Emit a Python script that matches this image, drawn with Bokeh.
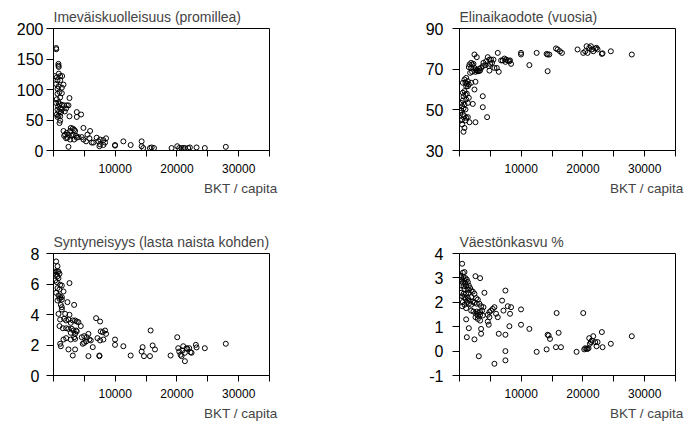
from bokeh.plotting import figure
from bokeh.layouts import gridplot
from bokeh.models import FixedTicker, Title, Range1d
from bokeh.embed import file_html
from bokeh.resources import INLINE

# ---------------- data ----------------
imr_x = [430, 450, 800, 800, 850, 215, 540, 860, 1080, 1400, 650, 1080, 430, 1620, 810, 650, 1350, 970,
         1350, 650, 1080, 2590, 540, 810, 430, 970, 1350, 755, 1080, 650, 1350, 915, 1725, 2155, 2425,
         2050, 1830, 1240, 3770, 4475, 3770, 2590, 540, 810, 1080, 650, 1080, 970,
         1620, 1890, 1725, 2155, 2425, 2700, 2800, 3125, 3340, 3500, 2965, 3235, 3665, 3770, 4040, 3340,
         2700, 2260, 2050, 2425, 4850, 5930, 5500, 4580, 4850, 5280, 5820, 6200, 6470, 7000, 7280, 7550,
         8085, 8515, 7440, 7550, 8085, 8355, 9970, 9970, 11320, 12500, 14280, 14280, 14550, 15630, 15900,
         16280, 19130, 20050, 20370, 20750, 21020, 21290, 21830, 22100, 23180, 24520, 27920]
imr_y = [168, 166, 142, 139, 137, 122, 120, 126, 122, 122, 115, 115, 109, 108, 105, 101, 103, 96,
         94, 93, 87, 86, 84, 79, 78, 76, 75, 72, 69, 67, 67, 64, 74, 74, 74,
         69, 64, 63, 63, 59, 55, 56, 59, 57, 56, 55, 49, 45,
         32, 26, 24, 29, 26, 32, 37, 36, 34, 32, 24, 26, 24, 21, 22, 18,
         18, 21, 20, 6, 37, 32, 26, 22, 18, 15, 20, 13, 13, 21, 15, 18,
         17, 20, 7, 10, 9, 13, 9, 8, 15, 9, 15, 7, 4, 4, 5,
         4, 4, 7, 4, 4, 4, 4, 4, 5, 5, 4, 6]

life_x = [2425, 2800, 1890, 1620, 2050, 2260, 1510, 1890, 2425, 2700, 2800, 3125, 3340, 3500, 3770, 3235,
          2965, 2590, 2050, 1725, 3880, 4200, 4580, 4310, 4850, 5120, 5500, 5280, 4960, 4740, 4850, 5660,
          6040, 6360, 6200, 6740, 7000, 7280, 7550, 7440, 7820, 8085, 8355, 8190, 9970, 9970, 11320, 12500,
          14120, 14280, 14550, 14280, 15630, 15900, 16280, 16600, 19130, 20050, 20370, 20590, 20750, 21020,
          21290, 21450, 21670, 21990, 22210, 22370, 23070, 23180, 24520, 27920,
          540, 810, 1080, 1350, 970, 1185, 1510, 1890, 1080, 1350, 2590, 2425, 810, 540, 970, 1185, 650,
          1510, 1080, 540, 270, 810, 1350, 2155, 3770, 430, 650, 970, 270, 3770, 110, 540, 810, 1080, 1350,
          430, 110, 970, 1620, 2590, 430, 810, 650, 4475]
life_y = [77.2, 75.9, 73.1, 72.3, 72.3, 72.6, 71.0, 70.6, 70.6, 69.8, 69.3, 69.0, 69.3, 70.6, 71.5, 70.3,
          69.0, 68.7, 68.7, 68.2, 73.1, 72.0, 75.9, 73.9, 74.7, 74.7, 74.7, 73.1, 72.6, 71.5, 69.3, 70.6,
          70.6, 68.7, 78.0, 74.3, 74.3, 75.2, 74.7, 73.6, 74.3, 73.9, 72.6, 74.3, 78.0, 77.2, 72.0, 78.0,
          77.5, 77.2, 77.2, 69.0, 80.2, 79.7, 78.8, 78.0, 79.7, 78.0, 78.8, 81.3, 78.0, 80.5,
          81.3, 79.7, 78.8, 80.2, 80.5, 79.7, 77.5, 77.8, 78.8, 77.2,
          63.3, 64.9, 65.7, 64.1, 63.3, 62.8, 62.5, 63.3, 61.6, 61.6, 63.8, 60.0, 59.2, 58.4, 57.5, 57.9, 56.7,
          55.9, 55.1, 54.6, 53.4, 52.6, 53.4, 52.9, 56.7, 51.8, 50.7, 50.2, 49.7, 51.3, 48.5, 47.7, 46.9, 46.1, 46.4,
          45.2, 44.8, 44.8, 43.9, 43.9, 42.8, 41.1, 39.2, 46.4]

fert_x = [430, 650, 270, 540, 810, 110, 430, 970, 650, 810, 270, 540, 1080, 1350, 2590, 1620, 650, 970,
          430, 810, 1080, 1350, 650, 970, 1350, 2260, 1185, 1350, 3340, 1350, 810, 1890, 2590, 2425, 1080,
          1725, 2050, 2800, 3125, 3500, 3770, 4040, 4420, 970, 1510, 2050, 2425, 2965, 3235, 3665, 2800,
          3500, 3770, 3340, 1620, 2050, 2800, 3500, 4580, 4960, 5390, 5660, 5820, 6040, 4740, 4960, 5280,
          6900, 7550, 7660, 7980, 8355, 8515, 7120, 7550, 8085, 6360, 1080, 1185, 2425, 3125, 3500, 5660,
          7440, 7440, 9970, 9970, 11320, 12500, 14280, 14440, 14660, 15630, 15740, 16060, 16440, 18970,
          20050, 20210, 20370, 20590, 20750, 20910, 21020, 21290, 21560, 21670, 21990, 22210, 22370, 23070,
          23180, 24520, 27920, 21290]
fert_y = [7.48, 7.17, 6.82, 6.82, 6.82, 6.73, 6.60, 6.67, 6.51, 6.38, 6.23, 6.12, 5.95, 5.90, 6.06, 5.51, 5.73, 5.64,
          5.42, 5.25, 5.14, 5.14, 4.92, 5.03, 4.98, 4.81, 4.63, 4.48, 4.63, 4.33, 4.04, 4.04, 3.98, 3.67, 3.67,
          3.72, 3.61, 3.45, 3.61, 3.61, 3.54, 3.50, 3.24, 3.24, 3.10, 3.10, 3.06, 3.06, 2.95, 2.95, 2.80,
          2.73, 2.89, 2.51, 2.36, 2.45, 2.36, 2.40, 2.51, 2.58, 2.51, 2.73, 2.36, 2.30, 2.08, 2.14, 2.23,
          3.76, 3.54, 2.89, 2.84, 2.95, 2.73, 2.45, 2.30, 2.36, 1.86, 2.08, 1.92, 1.71, 1.31, 1.71, 1.27,
          1.31, 1.27, 2.36, 2.01, 1.92, 1.31, 1.57, 1.86, 1.27, 1.27, 2.95, 1.97, 1.71, 1.31,
          2.51, 1.79, 1.57, 1.36, 1.27, 1.64, 1.92, 1.49, 1.79, 1.75, 1.79, 1.53, 1.49, 2.01,
          1.84, 1.79, 2.08, 0.94]

pop_x = [430, 110, 540, 810, 270, 650, 970, 430, 810, 1185, 1350, 540, 970, 270, 650, 1080, 1510, 1725,
         810, 1350, 1890, 2155, 270, 650, 1080, 1510, 2425, 430, 810, 1350, 1890, 2700, 970, 1620, 2155,
         2965, 540, 1185, 2425, 810, 1510, 1890, 2800, 3235, 430, 1080, 3500, 3880, 2590, 3340, 4040, 1890,
         2260, 2800, 3125, 3340, 3665, 2700, 2965, 3340, 3770, 4580, 4850, 5120, 5390, 5660, 5930, 6200,
         4850, 2590, 2965, 3340, 4580, 4740, 3500, 3500, 1510, 1080, 1185, 2425, 3125, 5660, 6360, 7440,
         6900, 7120, 7820, 8355, 8190, 8085, 9970, 9970, 11320, 7440, 7440, 7440, 12500, 14120, 14280,
         14440, 14660, 15630, 15740, 16060, 16440, 18970, 20050, 20210, 20370, 20590, 20750, 20910, 21020,
         21130, 21290, 21450, 21670, 21990, 22210, 22370, 23070, 23180, 24520, 27920]
pop_y = [3.58, 3.10, 3.21, 3.24, 3.03, 3.03, 2.99, 2.93, 2.89, 2.93, 2.83, 2.80, 2.76, 2.69, 2.66, 2.66, 2.69, 2.58,
         2.55, 2.52, 2.48, 2.44, 2.39, 2.35, 2.35, 2.39, 2.35, 2.25, 2.21, 2.17, 2.21, 2.17, 2.14, 2.07, 2.03,
         2.11, 2.01, 2.01, 1.98, 1.90, 1.94, 1.90, 1.94, 1.94, 1.84, 1.76, 1.84, 1.80, 3.07, 2.99, 2.39, 1.66,
         1.62, 1.62, 1.57, 1.60, 1.66, 1.53, 1.46, 1.49, 1.46, 1.49, 1.60, 1.66, 1.73, 1.80, 1.53, 1.39,
         1.39, 1.39, 1.32, 1.25, 1.21, 1.08, 0.91, 0.71, 0.94, 1.30, 0.57, 0.48, -0.21, -0.52, 0.71, 2.48,
         2.07, 1.66, 1.84, 1.80, 1.53, 1.02, 1.71, 1.08, 0.91, 0.67, 0.00, -0.38, -0.03, 0.07, 0.67,
         0.64, 0.50, 0.16, 1.56, 0.75, 0.16, -0.03, 1.56, 0.07, 0.12, 0.09, 0.09, 0.12, 0.53,
         0.30, 0.37, 0.43, 0.61, 0.37, 0.20, 0.37, 0.78, 0.16, 0.30, 0.61]

titles = ["Imeväiskuolleisuus (promillea)", "Elinaikaodote (vuosia)",
          "Syntyneisyys (lasta naista kohden)", "Väestönkasvu %"]
x_label = "BKT / capita"
x_ticks = [0, 5000, 10000, 15000, 20000, 25000, 30000, 35000]
x_tick_labels = {0: "", 5000: "", 10000: "10000", 15000: "", 20000: "20000",
                 25000: "", 30000: "30000", 35000: ""}
y_ticks_list = [[0, 50, 100, 150, 200], [30, 50, 70, 90], [0, 2, 4, 6, 8], [-1, 0, 1, 2, 3, 4]]

FONT = "Liberation Sans"


def panel(xs, ys, title, yticks, left, right, top, bottom, y_standoff):
    p = figure(width=343, height=212, output_backend="svg", toolbar_location=None,
               x_range=Range1d(0, 35000), y_range=Range1d(yticks[0], yticks[-1]),
               min_border_left=left, min_border_right=right,
               min_border_top=top, min_border_bottom=bottom)
    p.background_fill_color = "white"
    p.border_fill_color = "white"
    p.outline_line_color = "black"
    p.outline_line_width = 1
    p.xgrid.visible = False
    p.ygrid.visible = False
    p.scatter(xs, ys, marker="circle", size=5, fill_color=None,
              line_color="black", line_width=1)

    p.title.text = title
    p.title.text_font = FONT
    p.title.text_font_size = "14px"
    p.title.text_font_style = "normal"
    p.title.text_line_height = 1.0
    p.title.align = "left"
    p.title.standoff = 7

    for ax in (p.xaxis[0], p.yaxis[0]):
        ax.axis_line_color = "black"
        ax.major_tick_line_color = "black"
        ax.minor_tick_line_color = None
        ax.major_tick_in = 0
        ax.major_label_text_font = FONT
        ax.major_label_text_color = "black"
    p.xaxis[0].ticker = FixedTicker(ticks=x_ticks)
    p.xaxis[0].major_label_overrides = x_tick_labels
    p.xaxis[0].major_label_text_font_size = "12px"
    p.xaxis[0].major_tick_out = 6
    p.xaxis[0].major_label_standoff = 7
    p.yaxis[0].ticker = FixedTicker(ticks=yticks)
    p.yaxis[0].major_label_overrides = {t: str(t) for t in yticks}
    p.yaxis[0].major_label_text_font_size = "16px"
    p.yaxis[0].major_tick_out = 7
    p.yaxis[0].major_label_standoff = y_standoff

    p.add_layout(Title(text=x_label, align="right", offset=-8, text_font=FONT,
                       text_font_size="13.5px", text_font_style="normal", standoff=6), "below")
    return p


p1 = panel(imr_x, imr_y, titles[0], y_ticks_list[0], 53, 74, 27, 62, 3)
p2 = panel(life_x, life_y, titles[1], y_ticks_list[1], 116, 11, 28, 62, 9)
p3 = panel(fert_x, fert_y, titles[2], y_ticks_list[2], 53, 74, 41, 49, 7)
p4 = panel(pop_x, pop_y, titles[3], y_ticks_list[3], 116, 11, 41, 49, 9)

grid = gridplot([[p1, p2], [p3, p4]], toolbar_location=None)

open("out.html", "w").write(file_html(grid, INLINE))
